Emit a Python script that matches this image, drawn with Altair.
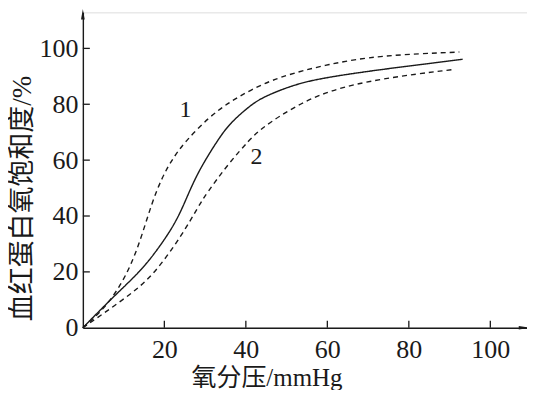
import altair as alt
import pandas as pd

# ---- data ----
c1_x = [0, 5, 9, 12, 14.5, 17, 19.5, 22, 25, 31, 36, 41, 48, 60.5, 72.8, 92.4]
c1_y = [0, 6.4, 14.5, 23, 33, 45, 54, 60.5, 66.5, 75.5, 80.8, 85, 89.8, 94.5, 97.5, 98.7]

c0_x = [0, 7.4, 14, 18.1, 22.1, 24.6, 27.9, 33, 36, 41, 44.2, 52.4, 60.5, 72.8, 93.2]
c0_y = [0, 11, 20, 27.5, 36, 43.3, 55, 67, 73.1, 79.5, 82.6, 87.4, 89.8, 92.4, 96.1]

c2_x = [0, 9.9, 17.2, 24.6, 28.3, 30.3, 35.6, 41, 44.2, 52.4, 60.5, 72.8, 91.2]
c2_y = [0, 10, 18.3, 33.8, 43.3, 48, 58.5, 67.5, 71.9, 79.6, 85, 89.2, 92.5]

x_ticks = [20, 40, 60, 80, 100]
y_ticks = [0, 20, 40, 60, 80, 100]
y_tick_marks = [20, 40, 60, 80, 100]

label_text = ["1", "2"]
label_x = [25.2, 42.6]
label_y = [77.9, 61]

X_MAX = 109
Y_MAX = 112.9
W, H = 445, 316

SERIF = "Liberation Serif, Noto Sans CJK SC"
INK = "#1a1a1a"

rows = []
for name, style, xs, ys in [("1", "dashed", c1_x, c1_y), ("0", "solid", c0_x, c0_y), ("2", "dashed", c2_x, c2_y)]:
    for a, b in zip(xs, ys):
        rows.append({"series": name, "style": style, "p": a, "s": b})
df = pd.DataFrame(rows)

xscale = alt.Scale(domain=[0, X_MAX], nice=False, zero=False)
yscale = alt.Scale(domain=[0, Y_MAX], nice=False, zero=False)

lines = alt.Chart(df).mark_line(interpolate="basis", strokeWidth=1.4, color=INK).encode(
    x=alt.X("p:Q", scale=xscale, axis=alt.Axis(
        values=x_ticks, ticks=False, grid=False, labelPadding=9, labelFontSize=26,
        labelFont=SERIF, labelColor=INK, domainColor=INK, domainWidth=1.4,
        title="氧分压/mmHg", titleFont=SERIF, titleFontSize=25, titleFontWeight="normal",
        titleColor=INK, titleX=184, titleY=50, titleBaseline="middle", titleAlign="center")),
    y=alt.Y("s:Q", scale=yscale, axis=alt.Axis(
        values=y_ticks, ticks=False, grid=False, labelPadding=5, labelFontSize=26,
        labelFont=SERIF, labelColor=INK, domainColor=INK, domainWidth=1.4,
        title="血红蛋白氧饱和度/%", titleFont=SERIF, titleFontSize=27, titleFontWeight="normal",
        titleColor=INK, titleX=-60, titleY=186, titleBaseline="middle", titleAlign="center")),
    detail="series:N",
    strokeDash=alt.StrokeDash("style:N", scale=alt.Scale(domain=["solid", "dashed"], range=[[1, 0], [5, 4]]), legend=None),
)

xt = alt.Chart(pd.DataFrame({"v": x_ticks})).mark_rule(color=INK, strokeWidth=1.3).encode(
    x=alt.X("v:Q", scale=xscale), y=alt.value(H), y2=alt.value(H - 7))
yt = alt.Chart(pd.DataFrame({"v": y_tick_marks})).mark_rule(color=INK, strokeWidth=1.3).encode(
    y=alt.Y("v:Q", scale=yscale), x=alt.value(0), x2=alt.value(7))

one = pd.DataFrame({"k": [0]})
xarrow = alt.Chart(one).mark_point(shape="M-1,-0.35L1,0L-1,0.35Z", filled=True, size=110, color=INK, opacity=1, strokeWidth=0).encode(
    x=alt.value(442), y=alt.value(H))
yarrow = alt.Chart(one).mark_point(shape="M-0.35,1L0,-1L0.35,1Z", filled=True, size=110, color=INK, opacity=1, strokeWidth=0).encode(
    x=alt.value(0), y=alt.value(2))

labels = alt.Chart(pd.DataFrame({"t": label_text, "x": label_x, "y": label_y})).mark_text(
    font=SERIF, fontSize=24, color=INK).encode(
    x=alt.X("x:Q", scale=xscale), y=alt.Y("y:Q", scale=yscale), text="t:N")

chart = alt.layer(lines, xt, yt, xarrow, yarrow, labels).properties(
    width=W, height=H,
    autosize=alt.AutoSizeParams(type="none"),
    padding={"left": 75, "top": 4, "right": 0, "bottom": 62},
).configure_view(stroke=None).configure(background="white")

chart.save("out.html", embed_options={"renderer": "svg", "actions": False})
